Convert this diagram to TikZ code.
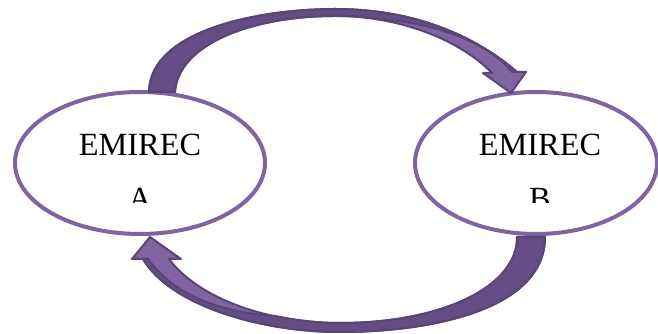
\documentclass[tikz,border=0pt]{standalone}
\usepackage{fontspec}
\setmainfont{Liberation Serif}
\usetikzlibrary{shapes.geometric,calc}

\definecolor{emiline}{HTML}{8064A2}
\definecolor{arrowdark}{HTML}{634D84}
\definecolor{arrowlight}{HTML}{8064A2}
\definecolor{arrowedge}{HTML}{5A4577}

\tikzset{
  emirec/.style={ellipse,draw=emiline,line width=0.1cm,fill=white,outer sep=0pt,minimum height=3.55cm},
  lbl/.style={anchor=base,inner sep=0pt,font=\fontsize{23}{27}\selectfont},
  frontarrow/.style={fill=arrowlight,draw=arrowedge,line width=0.05cm,line join=round},
  backarrow/.style={fill=arrowdark,draw=arrowedge,line width=0.05cm,line join=round}
}

\begin{document}
\begin{tikzpicture}[x=0.25cm,y=0.25cm]
\useasboundingbox (0,0) rectangle (65.8,33.4);

\node[emirec,minimum width=6.25cm] (A) at (14,17.1) {};
\node[emirec,minimum width=6.05cm] (B) at (53.6,17.1) {};

\node[lbl] (nameA) at (14,17.8) {EMIREC};
\node[lbl] (nameB) at (54,17.8) {EMIREC};
\begin{scope}
\clip (0,13.1) rectangle (65.8,33.4);
\node[lbl] (letA) at (14,12.4) {A};
\node[lbl] (letB) at (54,12.4) {B};
\end{scope}

% A to B, over the top
\coordinate (ABout) at ($(A.north)+(0.9,0)$);
\coordinate (ABin) at ($(A.north)+(3.5,0)$);
\coordinate (ABtip) at ($(B.north)+(-2.5,-0.1)$);
\filldraw[frontarrow] (ABout) .. controls (15.0,30.4) and (26.0,32.5) .. (33.5,32.5)
  .. controls (42.0,32.5) and (48.0,29.4) .. (51.7,26.2) -- (52.6,26.2) -- (ABtip)
  -- (48.3,26.1) -- (49.2,26.1) .. controls (46.0,29.4) and (40.0,31.8) .. (33.5,31.8)
  .. controls (25.0,31.8) and (17.8,28.9) .. (ABin) -- cycle;
\filldraw[backarrow] (ABout) .. controls (15.0,30.4) and (26.0,32.5) .. (33.5,32.5)
  .. controls (42.0,32.5) and (48.0,29.4) .. (51.7,26.2) -- (51.2,26.2)
  .. controls (49.0,29.0) and (44.0,31.0) .. (38.0,31.5)
  .. controls (36.5,31.8) and (35.0,31.8) .. (33.5,31.8)
  .. controls (25.0,31.8) and (17.8,28.9) .. (ABin) -- cycle;

% B to A, underneath
\coordinate (BAout) at ($(B.south)+(0.9,-0.3)$);
\coordinate (BAin) at ($(B.south)+(-1.9,-0.3)$);
\coordinate (BAtip) at ($(A.south)+(1.0,-0.3)$);
\filldraw[frontarrow] (BAout) .. controls (54.5,2.4) and (43.0,0.2) .. (34.0,0.2)
  .. controls (26.0,0.2) and (17.0,2.9) .. (14.3,7.5) -- (13.2,7.5) -- (BAtip)
  -- (18.1,7.5) -- (16.9,7.5) .. controls (20.0,3.4) and (27.0,1.1) .. (34.0,1.1)
  .. controls (44.5,1.1) and (51.8,4.9) .. (BAin) -- cycle;
\filldraw[backarrow] (BAout) .. controls (54.5,2.4) and (43.0,0.2) .. (34.0,0.2)
  .. controls (26.0,0.2) and (17.0,2.9) .. (14.3,7.5) -- (14.8,7.5)
  .. controls (17.5,3.8) and (22.0,2.2) .. (27.5,1.8)
  .. controls (30.0,1.3) and (32.0,1.1) .. (34.0,1.1)
  .. controls (44.5,1.1) and (51.8,4.9) .. (BAin) -- cycle;
\end{tikzpicture}
\end{document}
